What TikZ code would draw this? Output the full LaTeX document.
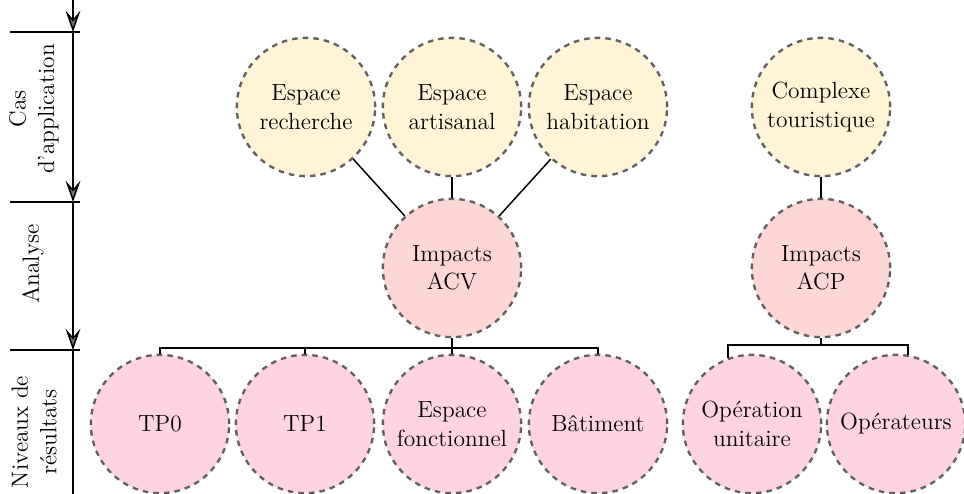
\documentclass[tikz,border=0pt]{standalone}
\usetikzlibrary{arrows.meta}
\definecolor{topfill}{HTML}{FFF4D6}
\definecolor{midfill}{HTML}{FFD6D6}
\definecolor{botfill}{HTML}{FFD3E2}
\definecolor{dashgray}{HTML}{606060}
\newcommand{\bubblefont}{\fontsize{11}{13.4}\selectfont}
\begin{document}
\begin{tikzpicture}[x=0.47pt,y=-0.47pt,
  bubble/.style={circle,minimum size=65pt,inner sep=1pt,align=center,font=\bubblefont,draw=dashgray,line width=1.1pt,dash pattern=on 2.6pt off 2.4pt},
  topb/.style={bubble,fill=topfill},
  midb/.style={bubble,fill=midfill},
  botb/.style={bubble,fill=botfill},
  link/.style={draw=black,line width=0.7pt},
  axis/.style={draw=black,line width=0.7pt},
  axarrow/.style={axis,-{Stealth[length=10pt,width=7pt,inset=4pt,fill=black!55]}},
  axlabel/.style={rotate=90,align=center,inner sep=0pt,font=\bubblefont}]
\useasboundingbox (0,0) rectangle (964,494);
% axis
\coordinate (a0) at (73,0);
\coordinate (a1) at (73,32);
\coordinate (a2) at (73,202);
\coordinate (a3) at (73,350);
\coordinate (a4) at (73,494);
\coordinate (t1) at (10,32);
\coordinate (t2) at (10,202);
\coordinate (t3) at (10,350);
\draw[axis] (t1) -- ++(70,0);
\draw[axis] (t2) -- ++(70,0);
\draw[axis] (t3) -- ++(70,0);
\draw[axarrow] (a0) -- (a1);
\draw[axarrow] (a1) -- (a2);
\draw[axarrow] (a2) -- (a3);
\draw[axis] (a3) -- (a4);
\node[axlabel] (l1) at (34,109) {Cas\\d'application};
\node[axlabel] (l2) at (33,264) {Analyse};
\node[axlabel] (l3) at (34,432) {Niveaux de\\résultats};
% top row
\node[topb] (rech) at (306,107) {Espace\\recherche};
\node[topb] (art) at (452,107) {Espace\\artisanal};
\node[topb] (hab) at (598,107) {Espace\\habitation};
\node[topb] (comp) at (821,107) {Complexe\\touristique};
% middle
\node[midb] (acv) at (452,268) {Impacts\\ACV};
\node[midb] (acp) at (821,268) {Impacts\\ACP};
% bottom
\node[botb] (tp0) at (160,424) {TP0};
\node[botb] (tp1) at (305,424) {TP1};
\node[botb] (ef) at (452,424) {Espace\\fonctionnel};
\node[botb] (bat) at (598,424) {Bâtiment};
\node[botb] (opu) at (752,424) {Opération\\unitaire};
\node[botb] (ops) at (896,424) {Opérateurs};
% links
\draw[link] (rech) -- (acv);
\draw[link] (art) -- (acv);
\draw[link] (hab) -- (acv);
\draw[link] (comp) -- (acp);
\coordinate (busL) at (0,348);
\draw[link] (acv.south) -- (acv.south |- busL);
\draw[link] (tp0.north) -- (tp0.north |- busL) -- (bat.north |- busL) -- (bat.north);
\draw[link] (tp1.north) -- (tp1.north |- busL);
\draw[link] (ef.north) -- (ef.north |- busL);
\coordinate (busR) at (0,345);
\draw[link] (acp.south) -- (acp.south |- busR);
\draw[link] (opu.110) -- (opu.110 |- busR) -- (ops.80 |- busR) -- (ops.80);
\end{tikzpicture}
\end{document}
